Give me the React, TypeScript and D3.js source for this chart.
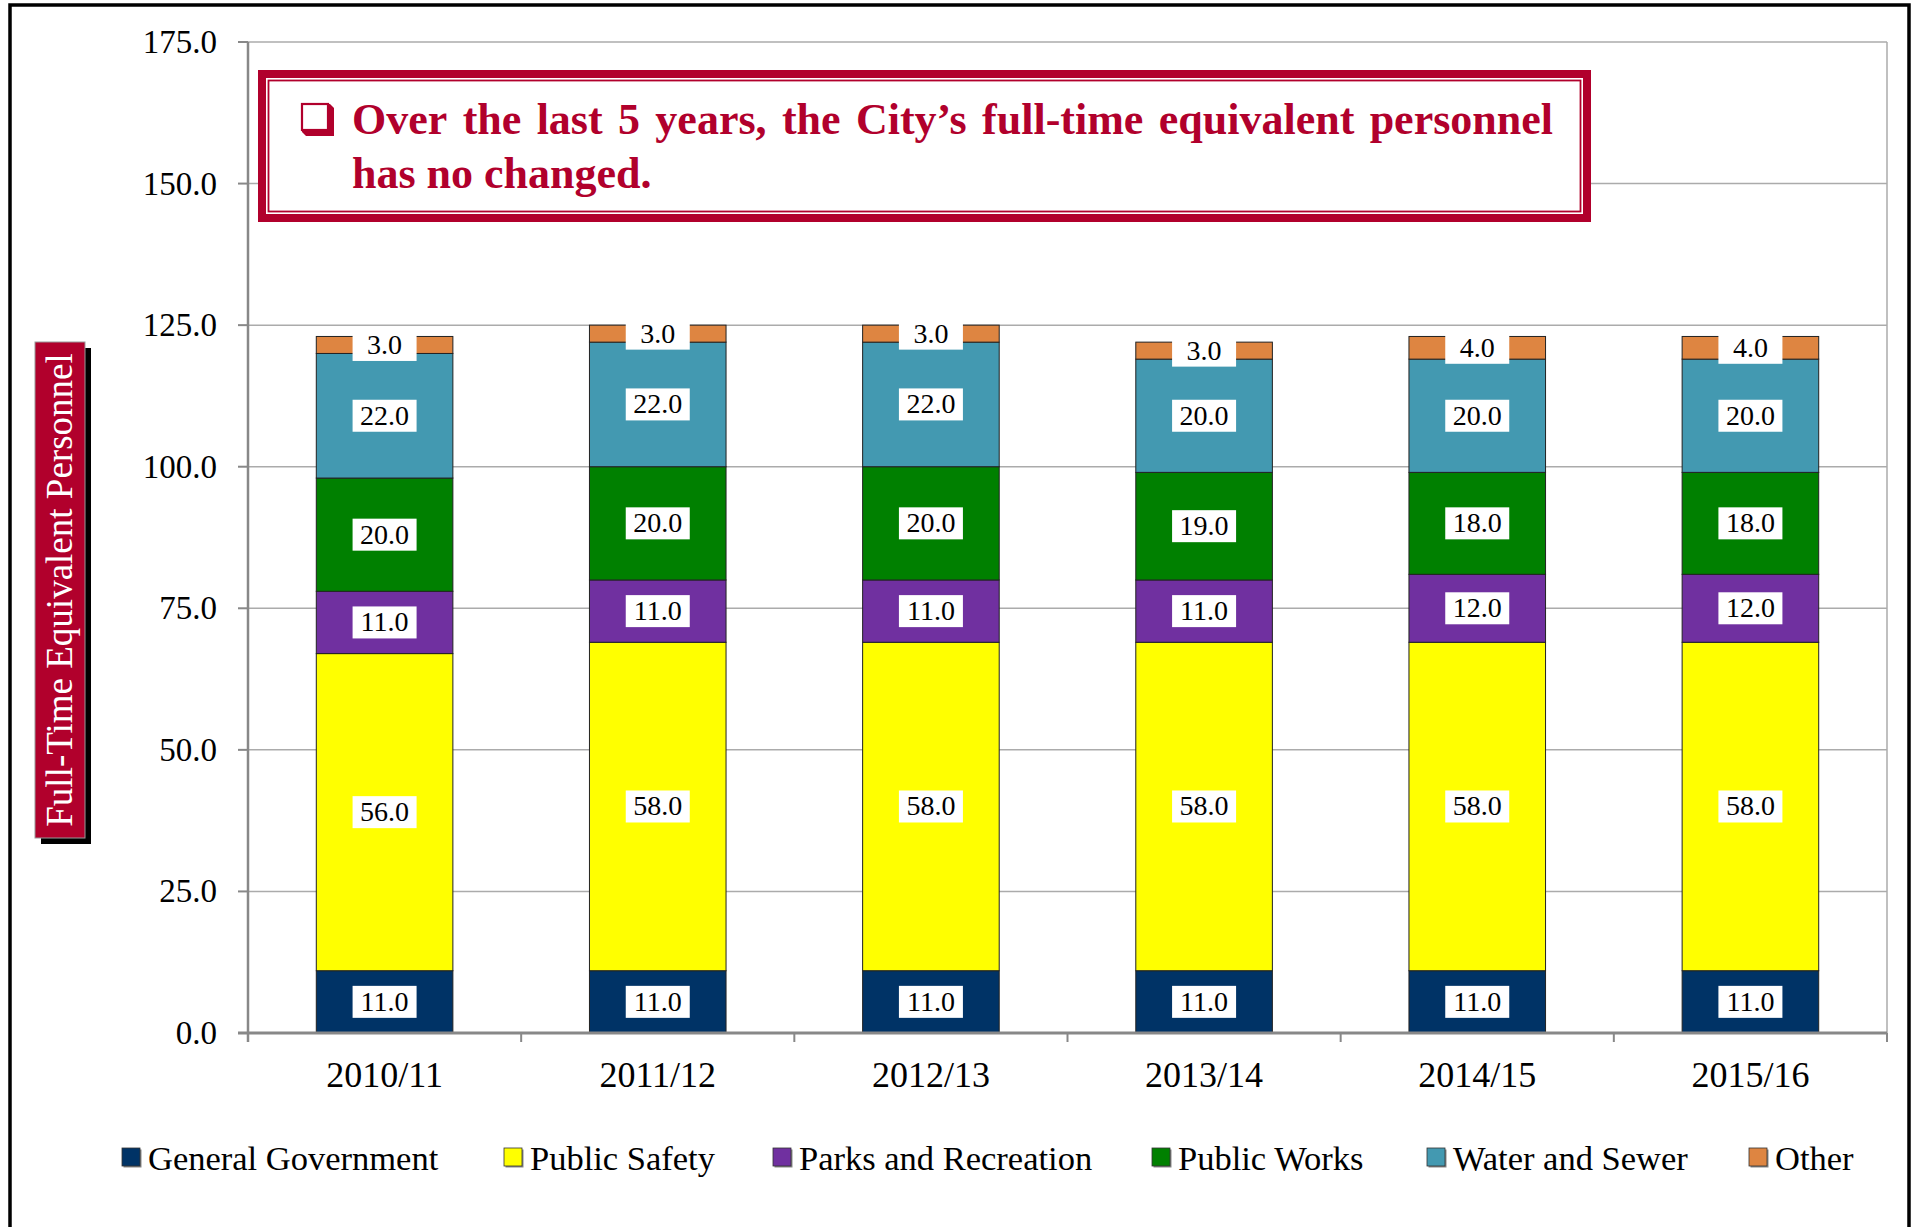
import React from 'react';
import * as d3 from 'd3';

const categories = ['2010/11', '2011/12', '2012/13', '2013/14', '2014/15', '2015/16'];
const seriesNames = ['General Government', 'Public Safety', 'Parks and Recreation', 'Public Works', 'Water and Sewer', 'Other'];
const generalGovernment = [11, 11, 11, 11, 11, 11];
const publicSafety = [56, 58, 58, 58, 58, 58];
const parksRecreation = [11, 11, 11, 11, 12, 12];
const publicWorks = [20, 20, 20, 19, 18, 18];
const waterSewer = [22, 22, 22, 20, 20, 20];
const other = [3, 3, 3, 3, 4, 4];
const yTicks = [0, 25, 50, 75, 100, 125, 150, 175];
const seriesColors = ['#003366', '#FFFF00', '#7030A0', '#008000', '#4399B1', '#DE8541'];
const titleLine1 = 'Over the last 5 years, the City\u2019s full-time equivalent personnel';
const titleLine2 = 'has no changed.';
const yLabel = 'Full-Time Equivalent Personnel';

const W = 1915;
const H = 1227;
const M = { left: 248, right: 1887, top: 42, bottom: 1033 };
const LEGEND_X = [122, 504, 773, 1152, 1427, 1749];
const CRIMSON = '#B1002C';
const SERIF = '"Liberation Serif", "Times New Roman", serif';

function measure(text: string, font: string): number {
  const c = document.createElement('canvas');
  const ctx = c.getContext('2d');
  if (!ctx) return text.length * 10;
  ctx.font = font;
  return ctx.measureText(text).width;
}

export default function App() {
  const seriesArrays = [generalGovernment, publicSafety, parksRecreation, publicWorks, waterSewer, other];
  const rows = categories.map((c, i) => {
    const r: any = { cat: c };
    seriesNames.forEach((s, j) => (r[s] = seriesArrays[j][i]));
    return r;
  });
  const stacked = d3.stack<any>().keys(seriesNames)(rows);

  const x = d3.scaleBand<string>().domain(categories).range([M.left, M.right]).paddingInner(0.5).paddingOuter(0.25);
  const y = d3.scaleLinear().domain([0, 175]).range([M.bottom, M.top]);
  const step = x.step();
  const boundaries = d3.range(categories.length + 1).map((i) => M.left + i * step);

  // title justification
  const titleFontSize = 44;
  const titleFont = `bold ${titleFontSize}px "Liberation Serif"`;
  const words = titleLine1.split(' ');
  const wordW = words.map((w) => measure(w, titleFont));
  const tx0 = 352;
  const tx1 = 1553;
  const gap = (tx1 - tx0 - d3.sum(wordW)) / (words.length - 1);
  const wordX: number[] = [];
  let acc = tx0;
  words.forEach((w, i) => {
    wordX.push(acc);
    acc += wordW[i] + gap;
  });

  const box = { x: 258, y: 70, w: 1333, h: 152 };
  const yl = { x: 35, y: 342, w: 50, h: 496 };

  return (
    <div style={{ position: 'absolute', left: 0, top: 0 }}>
      <svg width={W} height={H} style={{ display: 'block', background: '#fff' }} fontFamily={SERIF}>
        <rect x={0} y={0} width={W} height={H} fill="#fff" />
        {/* outer frame */}
        <path d={`M10,${H + 5} L10,5 L1909,5 L1909,${H + 5}`} fill="none" stroke="#000" strokeWidth={3.5} />

        {/* gridlines */}
        {yTicks.filter((t) => t > 0).map((t) => (
          <line key={t} x1={M.left} x2={M.right} y1={y(t)} y2={y(t)} stroke="#ABABAB" strokeWidth={1.5} />
        ))}
        <line x1={M.right} x2={M.right} y1={M.top} y2={M.bottom} stroke="#ABABAB" strokeWidth={1.5} />

        {/* bars */}
        {stacked.map((s, si) => (
          <g key={s.key}>
            {s.map((d, i) => (
              <rect
                key={i}
                x={x(categories[i])}
                width={x.bandwidth()}
                y={y(d[1])}
                height={y(d[0]) - y(d[1])}
                fill={seriesColors[si]}
                stroke="#222"
                strokeWidth={1}
              />
            ))}
          </g>
        ))}

        {/* data labels */}
        {stacked.map((s, si) => (
          <g key={'l' + s.key}>
            {s.map((d, i) => {
              const cx = (x(categories[i]) as number) + x.bandwidth() / 2;
              const cy = y((d[0] + d[1]) / 2);
              const v = d[1] - d[0];
              return (
                <g key={i}>
                  <rect x={cx - 32} y={cy - 16} width={64} height={32} fill="#fff" />
                  <text x={cx} y={cy + 9} textAnchor="middle" fontSize={28} fill="#000">
                    {v.toFixed(1)}
                  </text>
                </g>
              );
            })}
          </g>
        ))}

        {/* axes */}
        <line x1={M.left} x2={M.left} y1={M.top} y2={M.bottom + 9} stroke="#888" strokeWidth={2.5} />
        <line x1={M.left - 10} x2={M.right} y1={M.bottom} y2={M.bottom} stroke="#888" strokeWidth={3} />
        {yTicks.map((t) => (
          <g key={'yt' + t}>
            <line x1={M.left - 10} x2={M.left} y1={y(t)} y2={y(t)} stroke="#888" strokeWidth={2} />
            <text x={217} y={y(t) + 11} textAnchor="end" fontSize={33} fill="#000">
              {t.toFixed(1)}
            </text>
          </g>
        ))}
        {boundaries.map((bx, i) => (
          <line key={'xt' + i} x1={bx} x2={bx} y1={M.bottom} y2={M.bottom + 9} stroke="#888" strokeWidth={2} />
        ))}
        {categories.map((c) => (
          <text key={c} x={(x(c) as number) + x.bandwidth() / 2} y={1087} textAnchor="middle" fontSize={36} fill="#000">
            {c}
          </text>
        ))}

        {/* title box */}
        <rect x={box.x + 4} y={box.y + 4} width={box.w - 8} height={box.h - 8} fill="#fff" stroke={CRIMSON} strokeWidth={8} />
        <rect x={box.x + 10.5} y={box.y + 10.5} width={box.w - 21} height={box.h - 21} fill="none" stroke={CRIMSON} strokeWidth={1.8} />
        {/* checkbox glyph */}
        <path d="M302,104 L330,104 L334,108 L334,136 L306,136 L302,132 Z" fill={CRIMSON} />
        <rect x={302} y={104} width={26} height={26} fill="#fff" stroke={CRIMSON} strokeWidth={2.2} />
        {words.map((w, i) => (
          <text key={i} x={wordX[i]} y={134} fontSize={titleFontSize} fontWeight="bold" fill={CRIMSON}>
            {w}
          </text>
        ))}
        <text x={tx0} y={188} fontSize={titleFontSize} fontWeight="bold" fill={CRIMSON}>
          {titleLine2}
        </text>

        {/* y label */}
        <rect x={yl.x + 6} y={yl.y + 6} width={yl.w} height={yl.h} fill="#000" />
        <rect x={yl.x} y={yl.y} width={yl.w} height={yl.h} fill={CRIMSON} stroke="#999" strokeWidth={1} />
        <text
          transform={`translate(${yl.x + yl.w / 2 + 12},${yl.y + yl.h / 2}) rotate(-90)`}
          textAnchor="middle"
          fontSize={37}
          fill="#fff"
        >
          {yLabel}
        </text>

        {/* legend */}
        {seriesNames.map((s, i) => (
          <g key={'lg' + s}>
            <rect x={LEGEND_X[i] + 1.5} y={1149.5} width={18} height={18} fill="#888" />
            <rect x={LEGEND_X[i]} y={1148} width={18} height={18} fill={seriesColors[i]} stroke="#333" strokeWidth={0.8} />
            <text x={LEGEND_X[i] + 26} y={1170} fontSize={34.5} fill="#000">
              {s}
            </text>
          </g>
        ))}
      </svg>
    </div>
  );
}
